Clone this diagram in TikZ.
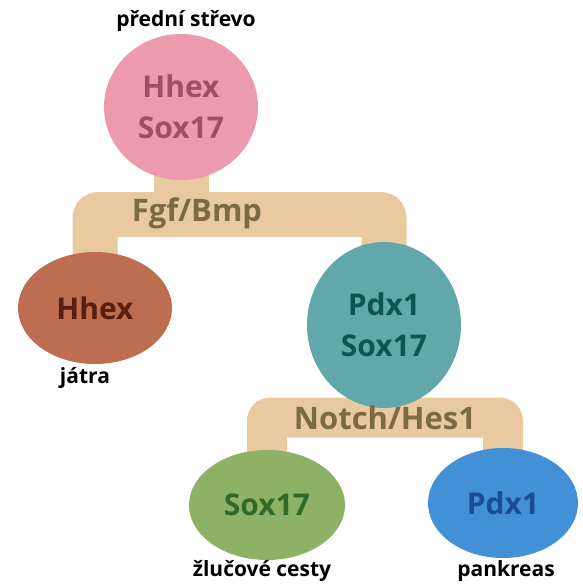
\documentclass[tikz,border=0pt]{standalone}
\usepackage{fontspec}
\setmainfont{Open Sans}
\usetikzlibrary{shapes.geometric,backgrounds}
\definecolor{pinkfill}{HTML}{EE9AAE}
\definecolor{pinktext}{HTML}{A04E68}
\definecolor{brownfill}{HTML}{BD6E50}
\definecolor{browntext}{HTML}{5A1E10}
\definecolor{tealfill}{HTML}{62A8AA}
\definecolor{tealtext}{HTML}{0E5552}
\definecolor{greenfill}{HTML}{8DB266}
\definecolor{greentext}{HTML}{2F6A2A}
\definecolor{bluefill}{HTML}{4291D6}
\definecolor{bluetext}{HTML}{1A4D94}
\definecolor{barfill}{HTML}{E8C9A0}
\definecolor{bartext}{HTML}{7A6B45}
\begin{document}
\begin{tikzpicture}[x=1pt,y=1pt,
  cell/.style={ellipse, inner sep=0pt, align=center,
    font=\bfseries\fontsize{30}{41}\selectfont},
  caption/.style={text=black, inner sep=0pt, font=\bfseries\fontsize{21}{24}\selectfont},
  signal/.style={text=bartext, inner sep=0pt, font=\bfseries\fontsize{31}{34}\selectfont},
  barA/.style={draw=barfill, line width=45pt, line join=round, rounded corners=3pt},
  stemA/.style={draw=barfill, line width=55pt},
  barB/.style={draw=barfill, line width=40pt, line join=round, rounded corners=3pt},
  stemB/.style={draw=barfill, line width=49pt}]
\useasboundingbox (0,0) rectangle (582,-584);
% cells
\node[cell, fill=pinkfill, text=pinktext, minimum width=154pt, minimum height=146pt] (top) at (181,-107) {Hhex\\Sox17};
\node[cell, fill=brownfill, text=browntext, minimum width=154pt, minimum height=112pt] (liver) at (95,-308) {Hhex};
\node[cell, fill=tealfill, text=tealtext, minimum width=154pt, minimum height=166pt] (pdx) at (384,-325) {Pdx1\\Sox17};
\node[cell, fill=greenfill, text=greentext, minimum width=156pt, minimum height=110pt] (bil) at (267,-505) {Sox17};
\node[cell, fill=bluefill, text=bluetext, minimum width=150pt, minimum height=110pt] (pan) at (503,-503) {Pdx1};
% captions
\node[caption] (capTop) at (186,-21) {přední střevo};
\node[caption] (capLiver) at (85,-378) {játra};
\node[caption] (capBil) at (262,-571) {žlučové cesty};
\node[caption] (capPan) at (506,-571) {pankreas};
% joints
\coordinate (j1) at (181.5,-214.5);
\coordinate (j2) at (384,-417.5);
% connectors
\begin{scope}[on background layer]
  \draw[stemA] (top.center) -- (j1);
  \draw[barA] (liver.center) |- (j1) -| (pdx.center);
  \draw[stemB] (pdx.center) -- (j2);
  \draw[barB] (bil.center) |- (j2) -| (pan.center);
\end{scope}
% signal labels
\node[signal] (fgf) at (197,-213) {Fgf/Bmp};
\node[signal] (notch) at (385,-418) {Notch/Hes1};
\end{tikzpicture}
\end{document}
